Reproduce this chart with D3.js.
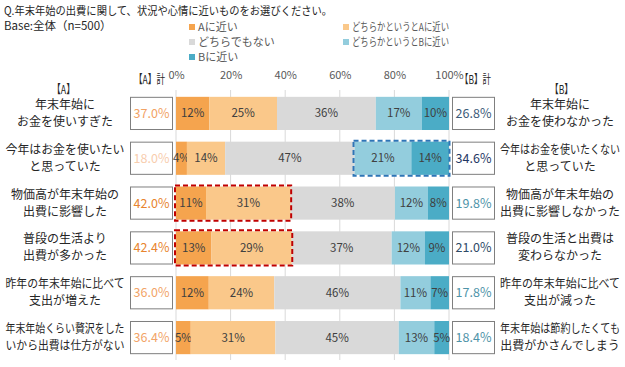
<!DOCTYPE html>
<html>
<head>
<meta charset="utf-8">
<script src="https://cdn.jsdelivr.net/npm/d3@7"></script>
<style>
  body { margin: 0; background: #fff; }
  text { font-family: "Noto Sans CJK JP", "Noto Sans", sans-serif; }
</style>
</head>
<body>
<svg id="chart"></svg>
<script>
// data
var labelsA = [
  ["年末年始に", "お金を使いすぎた"],
  ["今年はお金を使いたい", "と思っていた"],
  ["物価高が年末年始の", "出費に影響した"],
  ["普段の生活より", "出費が多かった"],
  ["昨年の年末年始に比べて", "支出が増えた"],
  ["年末年始くらい贅沢をした", "いから出費は仕方がない"]
];
var labelsB = [
  ["年末年始に", "お金を使わなかった"],
  ["今年はお金を使いたくない", "と思っていた"],
  ["物価高が年末年始の", "出費に影響しなかった"],
  ["普段の生活と出費は", "変わらなかった"],
  ["昨年の年末年始に比べて", "支出が減った"],
  ["年末年始は節約したくても", "出費がかさんでしまう"]
];
var seriesNames = ["Aに近い", "どちらかというとAに近い", "どちらでもない", "どちらかというとBに近い", "Bに近い"];
var nearA   = [12.2, 4.0, 11.0, 13.0, 12.0, 5.4];
var someA   = [24.8, 14.0, 31.0, 29.4, 24.0, 31.0];
var neither = [36.2, 47.4, 38.2, 36.6, 46.2, 45.2];
var someB   = [16.8, 20.8, 12.0, 12.2, 11.0, 13.0];
var nearB   = [10.0, 13.8, 7.8, 8.8, 6.8, 5.4];
var tickValues = [0, 20, 40, 60, 80, 100];
var highlights = [
  {row: 2, from: 0, to: 2, side: "A"},
  {row: 3, from: 0, to: 2, side: "A"},
  {row: 1, from: 3, to: 5, side: "B"}
];

// styles
var colors = ["#F5A44E", "#FAC88A", "#D9D9D9", "#93CDDD", "#4BACC6"];
var totalColorsA = ["#F2A264", "#F8CDAE", "#E8842E", "#E8842E", "#F2A468", "#F2A468"];
var totalColorsB = ["#3C5A78", "#1F3864", "#4E93A8", "#2E4A66", "#4E93A8", "#4E93A8"];

var w = 625, h = 367;
var svg = d3.select("#chart").attr("width", w).attr("height", h);

// squeeze a text if it is wider than maxW (the original font has narrow kana)
function fit(sel, maxW) {
  sel.each(function() {
    var len = this.getComputedTextLength();
    if (len > maxW) {
      d3.select(this).attr("textLength", maxW).attr("lengthAdjust", "spacingAndGlyphs");
    }
  });
}

var keys = ["nearA", "someA", "neither", "someB", "nearB"];
var rows = labelsA.map(function(d, i) {
  return {i: i, nearA: nearA[i], someA: someA[i], neither: neither[i], someB: someB[i], nearB: nearB[i]};
});

var x = d3.scaleLinear().domain([0, 100]).range([176, 449]);
var y = d3.scaleBand().domain(d3.range(rows.length)).range([91, 360]).paddingInner(0.26).paddingOuter(0.13);

// title
svg.append("text").attr("x", 4).attr("y", 15).attr("font-size", 11.5).attr("fill", "#262626")
  .text("Q.年末年始の出費に関して、状況や心情に近いものをお選びください。")
  .call(fit, 328);
svg.append("text").attr("x", 4).attr("y", 30).attr("font-size", 11.5).attr("fill", "#262626")
  .text("Base:全体（n=500）")
  .call(fit, 112);

// legend
var legendPos = [[189, 27], [343, 27], [189, 42], [343, 42], [189, 57]];
var legend = svg.append("g").selectAll("g")
  .data(seriesNames)
  .enter().append("g")
  .attr("transform", function(d, i) { return "translate(" + legendPos[i][0] + "," + legendPos[i][1] + ")"; });
legend.append("rect").attr("x", 0).attr("y", -3).attr("width", 6).attr("height", 6)
  .attr("fill", function(d, i) { return colors[i]; });
legend.append("text").attr("x", 9).attr("y", 4).attr("font-size", 11).attr("fill", "#595959")
  .text(function(d) { return d; })
  .call(fit, 97);

// gridlines
svg.append("g").selectAll("line")
  .data(tickValues)
  .enter().append("line")
  .attr("x1", function(d) { return x(d); })
  .attr("x2", function(d) { return x(d); })
  .attr("y1", 90).attr("y2", 360)
  .attr("stroke", "#D9D9D9").attr("stroke-width", 1);

// axis
var axis = svg.append("g").attr("transform", "translate(0,88)")
  .call(d3.axisTop(x).tickValues(tickValues).tickSize(0).tickPadding(9).tickFormat(function(d) { return d + "%"; }));
axis.select(".domain").remove();
axis.selectAll("text").attr("font-size", 11).attr("fill", "#595959")
  .style("font-family", "'Noto Sans CJK JP', sans-serif");

// headers
svg.append("text").attr("x", 134).attr("y", 84).attr("font-size", 12).attr("fill", "#262626")
  .text("【A】計").attr("textLength", 31).attr("lengthAdjust", "spacingAndGlyphs");
svg.append("text").attr("x", 460).attr("y", 84).attr("font-size", 12).attr("fill", "#262626")
  .text("【B】計").attr("textLength", 31).attr("lengthAdjust", "spacingAndGlyphs");
svg.append("text").attr("x", 52).attr("y", 94).attr("font-size", 12).attr("fill", "#262626")
  .text("【A】").attr("textLength", 23).attr("lengthAdjust", "spacingAndGlyphs");
svg.append("text").attr("x", 550).attr("y", 94).attr("font-size", 12).attr("fill", "#262626")
  .text("【B】").attr("textLength", 23).attr("lengthAdjust", "spacingAndGlyphs");

// stacked bars
var stack = d3.stack().keys(keys)(rows);
var layer = svg.append("g").selectAll("g")
  .data(stack)
  .enter().append("g")
  .attr("fill", function(d, i) { return colors[i]; });

layer.selectAll("rect")
  .data(function(d) { return d; })
  .enter().append("rect")
  .attr("x", function(d) { return x(d[0]); })
  .attr("width", function(d) { return x(d[1]) - x(d[0]); })
  .attr("y", function(d) { return y(d.data.i); })
  .attr("height", y.bandwidth());

layer.selectAll("text")
  .data(function(d) { return d; })
  .enter().append("text")
  .attr("x", function(d) { return (x(d[0]) + x(d[1])) / 2; })
  .attr("y", function(d) { return y(d.data.i) + y.bandwidth() / 2 + 4; })
  .attr("text-anchor", "middle")
  .attr("font-size", 11.5)
  .attr("fill", "#404040")
  .text(function(d) { return Math.round(d[1] - d[0]) + "%"; });

// highlight boxes
svg.append("g").selectAll("rect")
  .data(highlights)
  .enter().append("rect")
  .attr("x", function(d) { return x(stack[d.from][d.row][0]) - 1; })
  .attr("width", function(d) { return x(stack[d.to - 1][d.row][1]) - x(stack[d.from][d.row][0]) + 1.5; })
  .attr("y", function(d) { return y(d.row) - 1; })
  .attr("height", y.bandwidth() + 2)
  .attr("fill", "none")
  .attr("stroke", function(d) { return d.side == "A" ? "#C00000" : "#2E75B6"; })
  .attr("stroke-width", 2)
  .attr("stroke-dasharray", "5,3");

// total boxes
var boxes = svg.append("g");
boxes.selectAll("rect.a")
  .data(rows)
  .enter().append("rect")
  .attr("class", "a")
  .attr("x", 130.5).attr("width", 42)
  .attr("y", function(d) { return y(d.i) + 0.5; })
  .attr("height", y.bandwidth() - 1)
  .attr("fill", "#fff").attr("stroke", "#7F7F7F");
boxes.selectAll("rect.b")
  .data(rows)
  .enter().append("rect")
  .attr("class", "b")
  .attr("x", 452.5).attr("width", 42)
  .attr("y", function(d) { return y(d.i) + 0.5; })
  .attr("height", y.bandwidth() - 1)
  .attr("fill", "#fff").attr("stroke", "#7F7F7F");
boxes.selectAll("text.a")
  .data(rows)
  .enter().append("text")
  .attr("x", 151.5)
  .attr("y", function(d) { return y(d.i) + y.bandwidth() / 2 + 4.5; })
  .attr("text-anchor", "middle").attr("font-size", 12.5)
  .attr("fill", function(d) { return totalColorsA[d.i]; })
  .text(function(d) { return d3.format(".1f")(d.nearA + d.someA) + "%"; });
boxes.selectAll("text.b")
  .data(rows)
  .enter().append("text")
  .attr("x", 473.5)
  .attr("y", function(d) { return y(d.i) + y.bandwidth() / 2 + 4.5; })
  .attr("text-anchor", "middle").attr("font-size", 12.5)
  .attr("fill", function(d) { return totalColorsB[d.i]; })
  .text(function(d) { return d3.format(".1f")(d.someB + d.nearB) + "%"; });

// row labels
function rowLabels(labels, cx, maxW) {
  svg.append("g").selectAll("text")
    .data(d3.merge(labels.map(function(d, i) { return d.map(function(s, j) { return {s: s, row: i, line: j}; }); })))
    .enter().append("text")
    .attr("x", cx)
    .attr("y", function(d) { return y(d.row) + y.bandwidth() / 2 + (d.line == 0 ? -4.5 : 12.5); })
    .attr("text-anchor", "middle")
    .attr("font-size", 12)
    .attr("fill", "#262626")
    .text(function(d) { return d.s; })
    .call(fit, maxW);
}
rowLabels(labelsA, 65, 119);
rowLabels(labelsB, 560, 120);
</script>
</body>
</html>
